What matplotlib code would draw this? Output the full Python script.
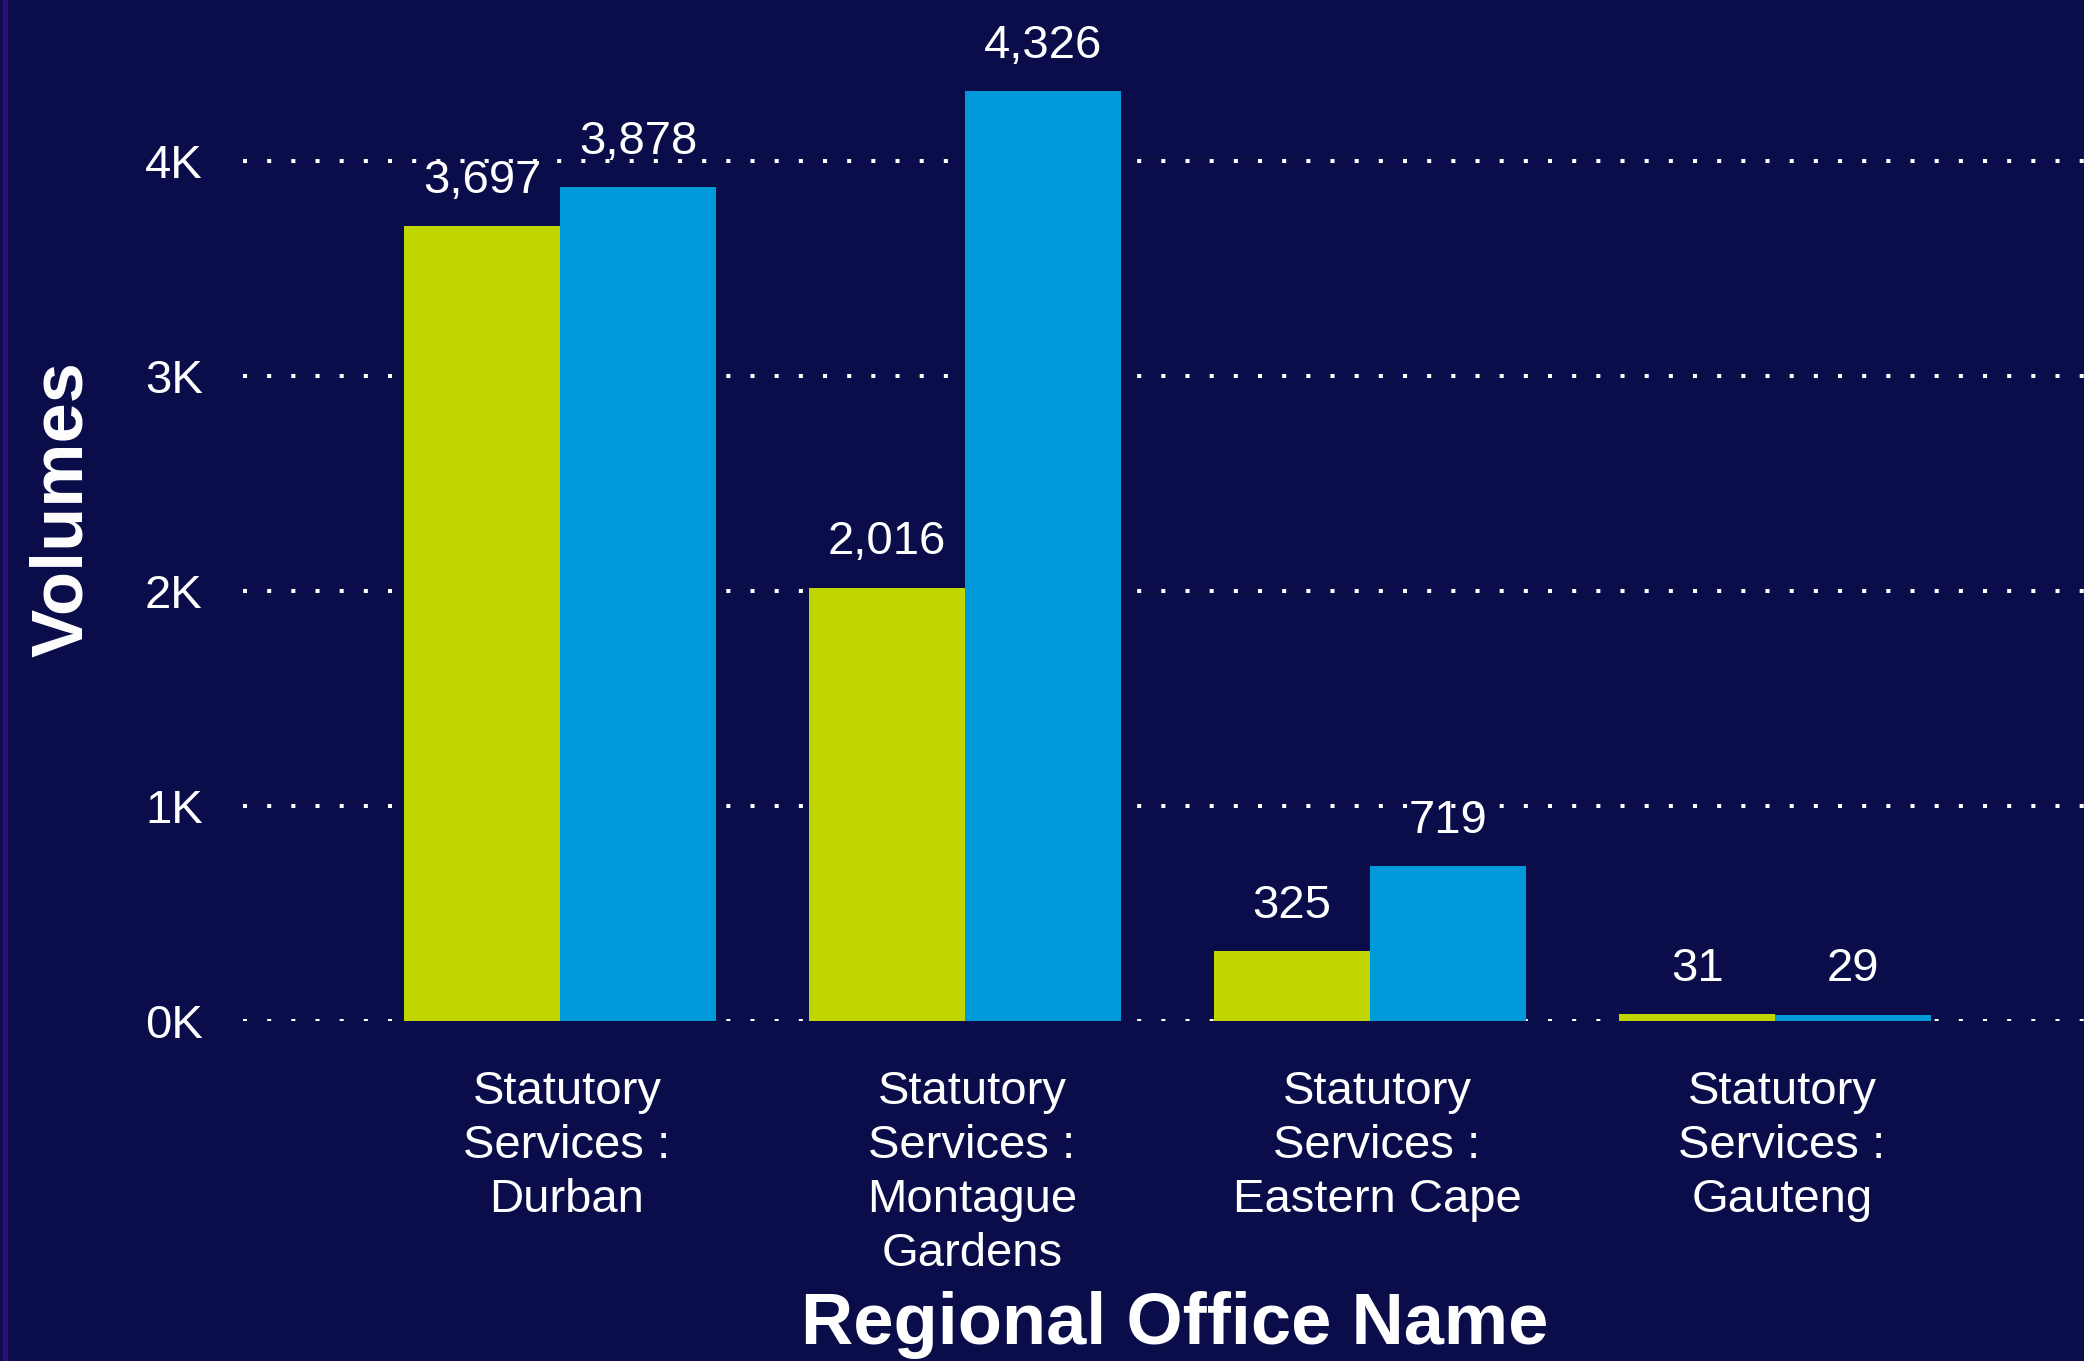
import matplotlib.pyplot as plt
from matplotlib.patches import Rectangle
from matplotlib.ticker import FuncFormatter
from matplotlib.transforms import ScaledTranslation
import numpy as np

# GLOBAL SETTINGS ---------------------------------------------------------------
plt.rcParams['font.family'] = ['Liberation Sans', 'DejaVu Sans']

BG = '#0A0D4A'
GREEN = '#BFD600'
BLUE = '#0099DA'

# DATA --------------------------------------------------------------------------
offices = ['Statutory\nServices :\nDurban',
           'Statutory\nServices :\nMontague\nGardens',
           'Statutory\nServices :\nEastern Cape',
           'Statutory\nServices :\nGauteng']
series_a = [3697, 2016, 325, 31]     # green
series_b = [3878, 4326, 719, 29]     # blue
y_ticks = [0, 1000, 2000, 3000, 4000]

# FIGURE ------------------------------------------------------------------------
fig = plt.figure(figsize=(20.84, 13.61), dpi=100, facecolor=BG)
ax = fig.add_axes([243 / 2084, 340 / 1361, 1 - 243 / 2084, 967.5 / 1361])
ax.set_facecolor(BG)

# thin purple strip on the left edge
fig.patches.append(Rectangle((3 / 2084, 0), 4 / 2084, 1, transform=fig.transFigure,
                             color='#2A0E7A', zorder=0))

x = np.arange(len(offices))
w = 0.385
bars_a = ax.bar(x - w / 2, series_a, width=w, color=GREEN, zorder=2)
bars_b = ax.bar(x + w / 2, series_b, width=w, color=BLUE, zorder=2)

# data labels
for bars in (bars_a, bars_b):
    for b in bars:
        ax.annotate(f'{int(b.get_height()):,}',
                    (b.get_x() + b.get_width() / 2, b.get_height()),
                    xytext=(0, 24), textcoords='offset points',
                    ha='center', va='baseline', color='white', fontsize=34)

# AXES --------------------------------------------------------------------------
ax.set_xlim(-0.783, 3.763)
ax.set_ylim(0, 4500)
ax.set_yticks(y_ticks)
ax.yaxis.set_major_formatter(FuncFormatter(lambda v, p: f'{v / 1000:.0f}K'))
ax.set_xticks(x)
ax.set_xticklabels(offices, linespacing=1.3)
ax.tick_params(axis='both', length=0, colors='white', labelsize=34)
ax.tick_params(axis='y', pad=29)
ax.tick_params(axis='x', pad=35)

# category labels sit a touch right of the group centre
shift = ScaledTranslation(5 / 72, 0, fig.dpi_scale_trans)
for lbl in ax.get_xticklabels():
    lbl.set_transform(lbl.get_transform() + shift)

ax.grid(axis='y', color='white', linestyle=(0, (1, 5)), linewidth=2.9, zorder=1)
ax.set_axisbelow(True)
for s in ax.spines.values():
    s.set_visible(False)

fig.text(63 / 2084, 1 - 509 / 1361, 'Volumes', rotation=90, ha='center', va='center',
         color='white', fontsize=52, fontweight='bold')
fig.text(1175 / 2084, 2 / 1361, 'Regional Office Name', ha='center', va='bottom',
         color='white', fontsize=52, fontweight='bold')

fig.savefig('out.png', dpi=100, facecolor=BG)
